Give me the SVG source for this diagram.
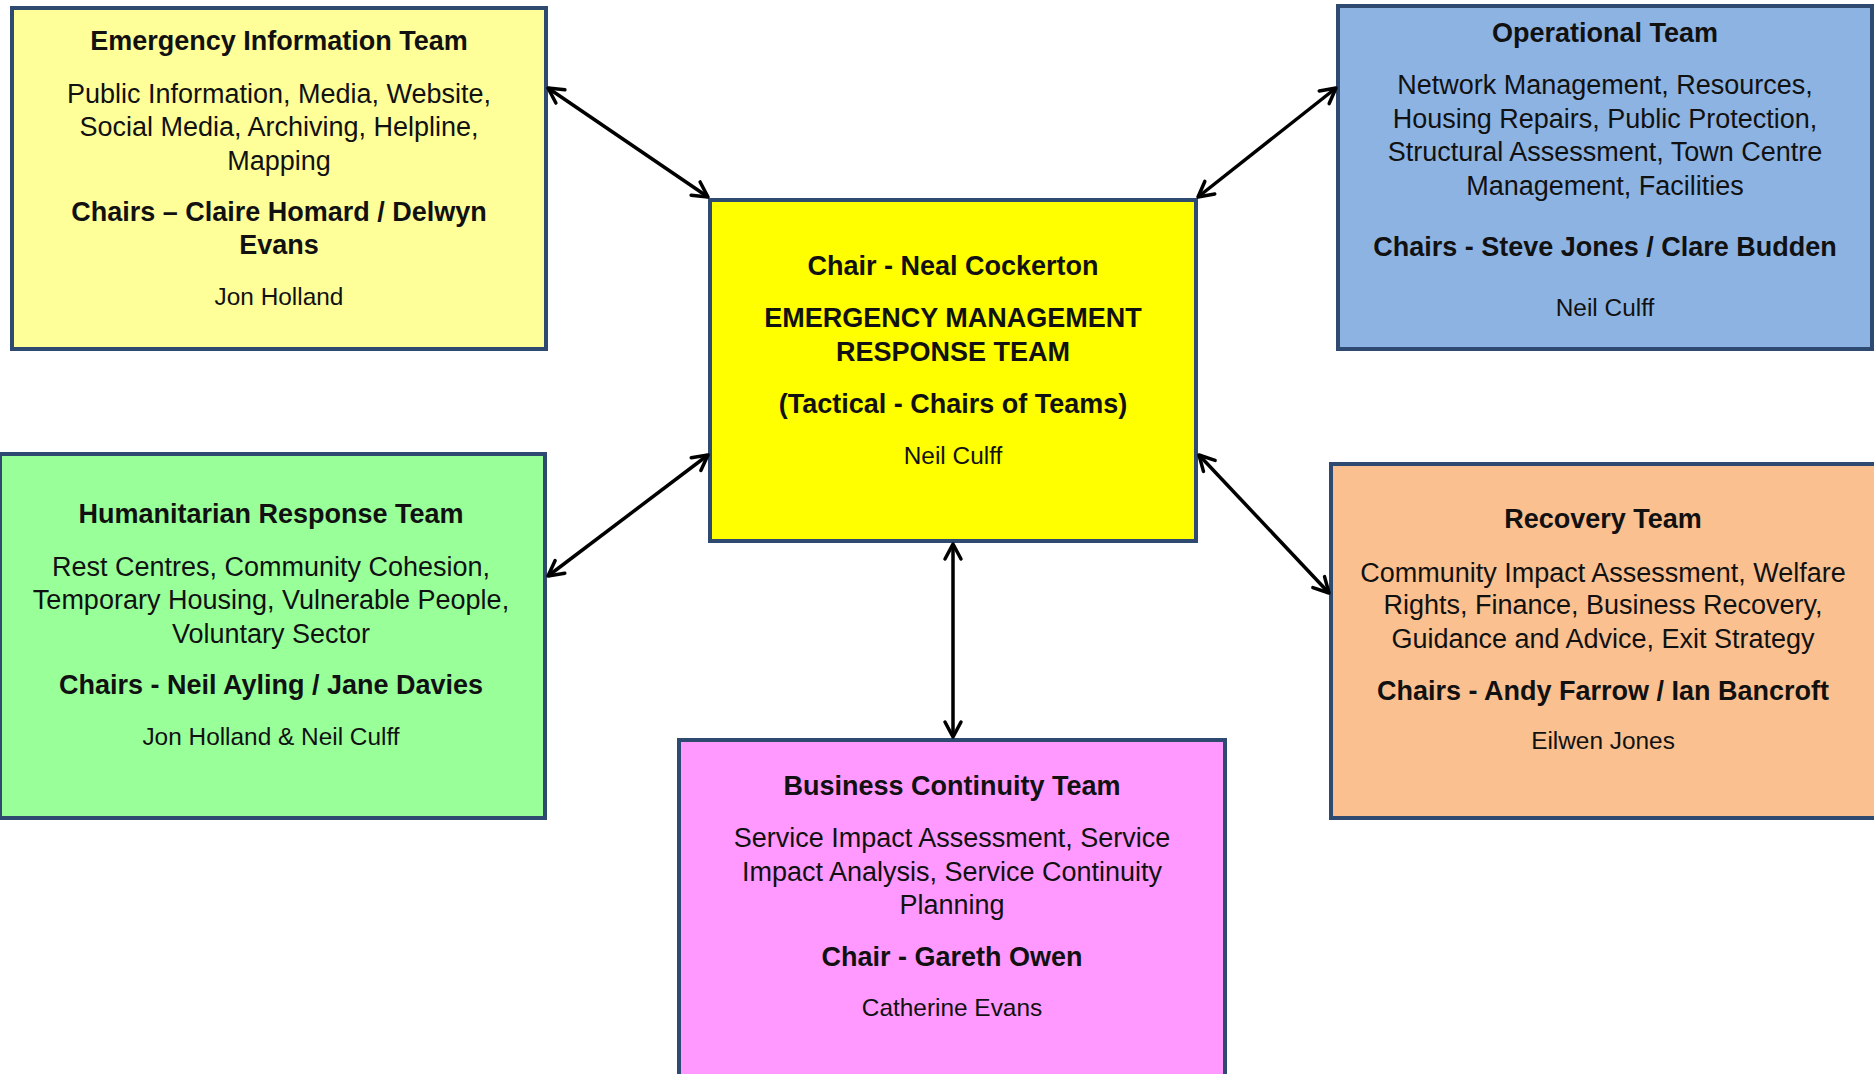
<svg xmlns="http://www.w3.org/2000/svg" width="1874" height="1074" viewBox="0 0 1874 1074">
<defs>
<style>
.box{stroke:#2E4A70;stroke-width:4}
text{font-family:"Liberation Sans",Arial,sans-serif;fill:#111;text-anchor:middle}
.t{font-size:27px}
.b{font-size:27px;font-weight:bold}
.n{font-size:24.4px}
.conn line{stroke:#000;stroke-width:3.5;fill:none}
</style>
<marker id="arr" markerUnits="userSpaceOnUse" markerWidth="24" markerHeight="24" viewBox="0 0 24 24" refX="20" refY="12" orient="auto-start-reverse">
<path d="M5,4 L20,12 L5,20" fill="none" stroke="#000" stroke-width="3.5" stroke-linecap="round" stroke-linejoin="round"/>
</marker>
</defs>
<rect width="1874" height="1074" fill="#fff"/>

<g id="emergency-information-team">
<rect class="box" x="12" y="8" width="534" height="341" fill="#FFFF99"/>
<text class="b" x="279" y="50">Emergency Information Team</text>
<text class="t" x="279" y="102.6">Public Information, Media, Website,</text>
<text class="t" x="279" y="136">Social Media, Archiving, Helpline,</text>
<text class="t" x="279" y="169.6">Mapping</text>
<text class="b" x="279" y="221">Chairs – Claire Homard / Delwyn</text>
<text class="b" x="279" y="254.4">Evans</text>
<text class="n" x="279" y="304.7">Jon Holland</text>
</g>

<g id="operational-team">
<rect class="box" x="1338" y="6" width="534" height="343" fill="#8DB3E2"/>
<text class="b" x="1605" y="41.7">Operational Team</text>
<text class="t" x="1605" y="94.3">Network Management, Resources,</text>
<text class="t" x="1605" y="127.7">Housing Repairs, Public Protection,</text>
<text class="t" x="1605" y="161.2">Structural Assessment, Town Centre</text>
<text class="t" x="1605" y="194.7">Management, Facilities</text>
<text class="b" x="1605" y="255.6">Chairs - Steve Jones / Clare Budden</text>
<text class="n" x="1605" y="315.5">Neil Culff</text>
</g>

<g id="emergency-management-response-team">
<rect class="box" x="710" y="200" width="486" height="341" fill="#FFFF00"/>
<text class="b" x="953" y="274.7">Chair - Neal Cockerton</text>
<text class="b" x="953" y="327.2">EMERGENCY MANAGEMENT</text>
<text class="b" x="953" y="360.7">RESPONSE TEAM</text>
<text class="b" x="953" y="413.4">(Tactical - Chairs of Teams)</text>
<text class="n" x="953" y="463.7">Neil Culff</text>
</g>

<g id="humanitarian-response-team">
<rect class="box" x="0" y="454" width="545" height="364" fill="#99FF99"/>
<text class="b" x="271" y="523.4">Humanitarian Response Team</text>
<text class="t" x="271" y="575.9">Rest Centres, Community Cohesion,</text>
<text class="t" x="271" y="609.4">Temporary Housing, Vulnerable People,</text>
<text class="t" x="271" y="642.9">Voluntary Sector</text>
<text class="b" x="271" y="694.3">Chairs - Neil Ayling / Jane Davies</text>
<text class="n" x="271" y="744.5">Jon Holland &amp; Neil Culff</text>
</g>

<g id="recovery-team">
<rect class="box" x="1331" y="464" width="545" height="354" fill="#FAC090"/>
<text class="b" x="1603" y="528.1">Recovery Team</text>
<text class="t" x="1603" y="581.9">Community Impact Assessment, Welfare</text>
<text class="t" x="1603" y="614.2">Rights, Finance, Business Recovery,</text>
<text class="t" x="1603" y="647.6">Guidance and Advice, Exit Strategy</text>
<text class="b" x="1603" y="700.2">Chairs - Andy Farrow / Ian Bancroft</text>
<text class="n" x="1603" y="749.3">Eilwen Jones</text>
</g>

<g id="business-continuity-team">
<rect class="box" x="679" y="740" width="546" height="336" fill="#FF99FF"/>
<text class="b" x="952" y="794.6">Business Continuity Team</text>
<text class="t" x="952" y="847.2">Service Impact Assessment, Service</text>
<text class="t" x="952" y="880.7">Impact Analysis, Service Continuity</text>
<text class="t" x="952" y="914.2">Planning</text>
<text class="b" x="952" y="965.6">Chair - Gareth Owen</text>
<text class="n" x="952" y="1015.8">Catherine Evans</text>
</g>

<g id="connectors" class="conn">
<line x1="548" y1="88" x2="708" y2="197" marker-start="url(#arr)" marker-end="url(#arr)"/>
<line x1="1336" y1="88" x2="1198" y2="197" marker-start="url(#arr)" marker-end="url(#arr)"/>
<line x1="548" y1="576" x2="708" y2="455" marker-start="url(#arr)" marker-end="url(#arr)"/>
<line x1="1329" y1="593" x2="1199" y2="455" marker-start="url(#arr)" marker-end="url(#arr)"/>
<line x1="953" y1="544" x2="953" y2="737" marker-start="url(#arr)" marker-end="url(#arr)"/>
</g>
</svg>
